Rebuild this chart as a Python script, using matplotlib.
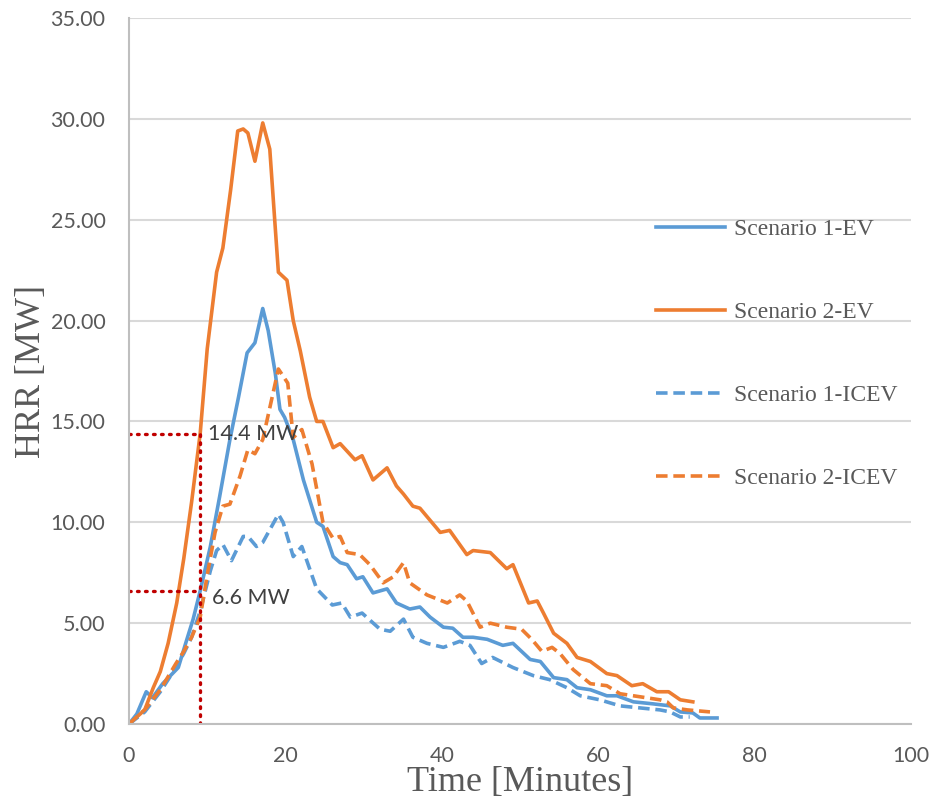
import matplotlib
matplotlib.use('Agg')
import matplotlib.pyplot as plt

# Scenario 1-EV (time in minutes, HRR in MW)
t_s1_ev = [0, 1, 2.2, 3, 4.3, 5.3, 6.3, 7.4, 8.2, 9.1, 10.4, 11.6, 12.9, 14, 15.1, 16.1, 17.1, 17.8,
           18.7, 19.3, 19.9, 21, 22.3, 24, 24.8, 26.1, 27, 27.9, 29.1, 29.9, 31.2, 33, 34.2, 35.9,
           37.2, 38.5, 40.2, 41.4, 42.7, 44, 45.8, 47.8, 49.1, 50.2, 51.3, 52.6, 54.3, 56, 57.3,
           59, 61.1, 62.4, 64.5, 67, 69.2, 70.5, 72.1, 73, 75.2]
hrr_s1_ev = [0, 0.5, 1.6, 1.3, 2.0, 2.4, 2.8, 4.2, 5.2, 6.6, 8.8, 11.3, 14.1, 16.2, 18.4, 18.9, 20.6, 19.5,
             17.4, 15.6, 15.2, 14.1, 12.1, 10.0, 9.8, 8.3, 8.0, 7.9, 7.2, 7.3, 6.5, 6.7, 6.0, 5.7,
             5.8, 5.3, 4.8, 4.75, 4.3, 4.3, 4.2, 3.9, 4.0, 3.6, 3.2, 3.1, 2.3, 2.2, 1.8,
             1.7, 1.4, 1.4, 1.1, 1.0, 0.9, 0.6, 0.55, 0.3, 0.3]

# Scenario 2-EV
t_s2_ev = [0, 2, 3.1, 4, 5, 6.1, 7, 8, 9.1, 10, 11.2, 12, 13, 13.9, 14.6, 15.2, 16.1, 17.1, 18, 18.7,
           19.1, 20.2, 21, 21.9, 23.1, 24, 24.8, 26.1, 27, 28.9, 29.8, 31.2, 33, 34.2, 35.1, 36.3,
           37.2, 38.5, 39.8, 41, 43.2, 44, 46.2, 48.3, 49.1, 51.1, 52.2, 53, 54.3, 56, 57.3, 59,
           61.1, 62.4, 64.3, 65.7, 67.5, 69, 70.5, 72.1]
hrr_s2_ev = [0, 0.7, 1.8, 2.6, 4.0, 6.0, 8.2, 11.0, 14.4, 18.6, 22.4, 23.6, 26.5, 29.4, 29.5, 29.3, 27.9, 29.8, 28.5, 24.6,
             22.4, 22.0, 20.0, 18.5, 16.2, 15.0, 15.0, 13.7, 13.9, 13.1, 13.3, 12.1, 12.7, 11.8, 11.4, 10.8,
             10.7, 10.1, 9.5, 9.6, 8.4, 8.6, 8.5, 7.7, 7.9, 6.0, 6.1, 5.5, 4.5, 4.0, 3.3, 3.1,
             2.5, 2.4, 1.9, 2.0, 1.6, 1.6, 1.2, 1.1]

# Scenario 1-ICEV
t_s1_icev = [0, 2, 4, 6, 7, 8, 9.1, 10.4, 11.2, 12, 13.1, 14.6, 15.2, 16.3, 17.1, 19.1, 19.7, 21, 22.1,
             24, 26, 27.2, 28.3, 29.8, 32.1, 33.4, 35.1, 36.3, 38.1, 40.2, 42.3, 43.6, 45.1, 46.5,
             49.1, 51.7, 53.8, 56, 57.7, 60.2, 62.8, 65.3, 67.9, 69.2, 70.5, 71.7]
hrr_s1_icev = [0, 0.6, 1.6, 2.8, 3.5, 4.3, 5.6, 7.6, 8.6, 8.9, 8.1, 9.3, 9.3, 8.8, 9.0, 10.4, 10.0, 8.3, 8.8,
               6.7, 5.9, 6.0, 5.3, 5.5, 4.7, 4.6, 5.2, 4.3, 4.0, 3.8, 4.1, 3.9, 3.0, 3.3,
               2.8, 2.4, 2.2, 1.8, 1.4, 1.2, 0.9, 0.8, 0.7, 0.6, 0.35, 0.35]

# Scenario 2-ICEV
t_s2_icev = [0, 2, 4, 6, 7, 8, 9.1, 10.1, 11, 12, 12.9, 14.2, 15.2, 16.1, 17.1, 19.1, 20.3, 21, 22.1,
             23.4, 24.8, 26.1, 27, 27.9, 29.5, 30.8, 32.5, 33.8, 35.1, 35.9, 38.1, 40.7, 42.3, 43.2,
             44.9, 46.2, 48.3, 50.2, 51.5, 52.8, 54.1, 55.1, 56.8, 59, 61.1, 62.8, 64.5, 66.2, 67.9,
             68.8, 69.6, 71.4, 74.3]
hrr_s2_icev = [0, 0.7, 1.7, 3.0, 3.6, 4.3, 5.3, 7.6, 9.5, 10.8, 10.9, 12.3, 13.6, 13.4, 14.1, 17.6, 16.9, 14.2, 14.6,
               12.9, 10.0, 9.2, 9.3, 8.5, 8.4, 7.9, 7.0, 7.3, 8.0, 7.0, 6.4, 6.0, 6.4, 6.1,
               4.8, 5.0, 4.8, 4.7, 4.2, 3.6, 3.8, 3.5, 2.7, 2.0, 1.9, 1.5, 1.4, 1.3, 1.2,
               1.1, 0.8, 0.7, 0.6]

# reference point marked with dotted lines
t_mark = 9.1
hrr_marks = [14.4, 6.6]
mark_labels = ['14.4 MW', '6.6 MW']

blue = '#5B9BD5'
orange = '#ED7D31'
dash = (0, (3.2, 1.6))
lw = 2.6

fig = plt.figure(figsize=(9.33, 8.05), dpi=100)
ax = fig.add_axes([0.1383, 0.1006, 0.8381, 0.877])

ax.plot(t_s1_ev, hrr_s1_ev, color=blue, lw=lw, label='Scenario 1-EV', solid_joinstyle='round')
ax.plot(t_s2_ev, hrr_s2_ev, color=orange, lw=lw, label='Scenario 2-EV', solid_joinstyle='round')
ax.plot(t_s1_icev, hrr_s1_icev, color=blue, lw=lw, ls=dash, label='Scenario 1-ICEV')
ax.plot(t_s2_icev, hrr_s2_icev, color=orange, lw=lw, ls=dash, label='Scenario 2-ICEV')

# dotted guides
red = '#C00000'
dots = (0, (0.5, 1.9))
for v in hrr_marks:
    ax.plot([0, t_mark], [v, v], color=red, lw=2.4, ls=dots, dash_capstyle='round')
ax.plot([t_mark, t_mark], [0, max(hrr_marks)], color=red, lw=2.4, ls=dots, dash_capstyle='round')
ax.text(t_mark + 1.0, hrr_marks[0], mark_labels[0], fontsize=15.5, family='Lato',
        color='#404040', va='center', ha='left')
ax.text(t_mark + 1.5, hrr_marks[1] - 0.35, mark_labels[1], fontsize=15.5, family='Lato',
        color='#404040', va='center', ha='left')

ax.set_xlim(0, 100)
ax.set_ylim(0, 35)
ax.set_xticks(range(0, 101, 20))
ax.set_yticks([0, 5, 10, 15, 20, 25, 30, 35])
ax.set_yticklabels(['%.2f' % y for y in [0, 5, 10, 15, 20, 25, 30, 35]])
ax.grid(axis='y', color='#D9D9D9', lw=1.5)
ax.set_axisbelow(True)
for s in ['top', 'right']:
    ax.spines[s].set_visible(False)
for s in ['left', 'bottom']:
    ax.spines[s].set_color('#BFBFBF')
    ax.spines[s].set_linewidth(1.5)
ax.tick_params(length=0, labelsize=15.5, labelcolor='#595959')
ax.tick_params(axis='y', pad=17)
ax.tick_params(axis='x', pad=16)
for lab in ax.get_xticklabels() + ax.get_yticklabels():
    lab.set_family('Lato')

ax.set_xlabel('Time [Minutes]', family='Liberation Serif', fontsize=26, color='#595959', labelpad=0)
ax.set_ylabel('HRR [MW]', family='Liberation Serif', fontsize=26, color='#595959', labelpad=2)

leg = ax.legend(loc='center left', bbox_to_anchor=(0.662, 0.524), frameon=False,
                prop={'family': 'Liberation Serif', 'size': 17}, labelspacing=2.6,
                handlelength=2.9, handletextpad=0.4, borderaxespad=0)
for txt in leg.get_texts():
    txt.set_color('#595959')

fig.savefig('out.png', dpi=100)
